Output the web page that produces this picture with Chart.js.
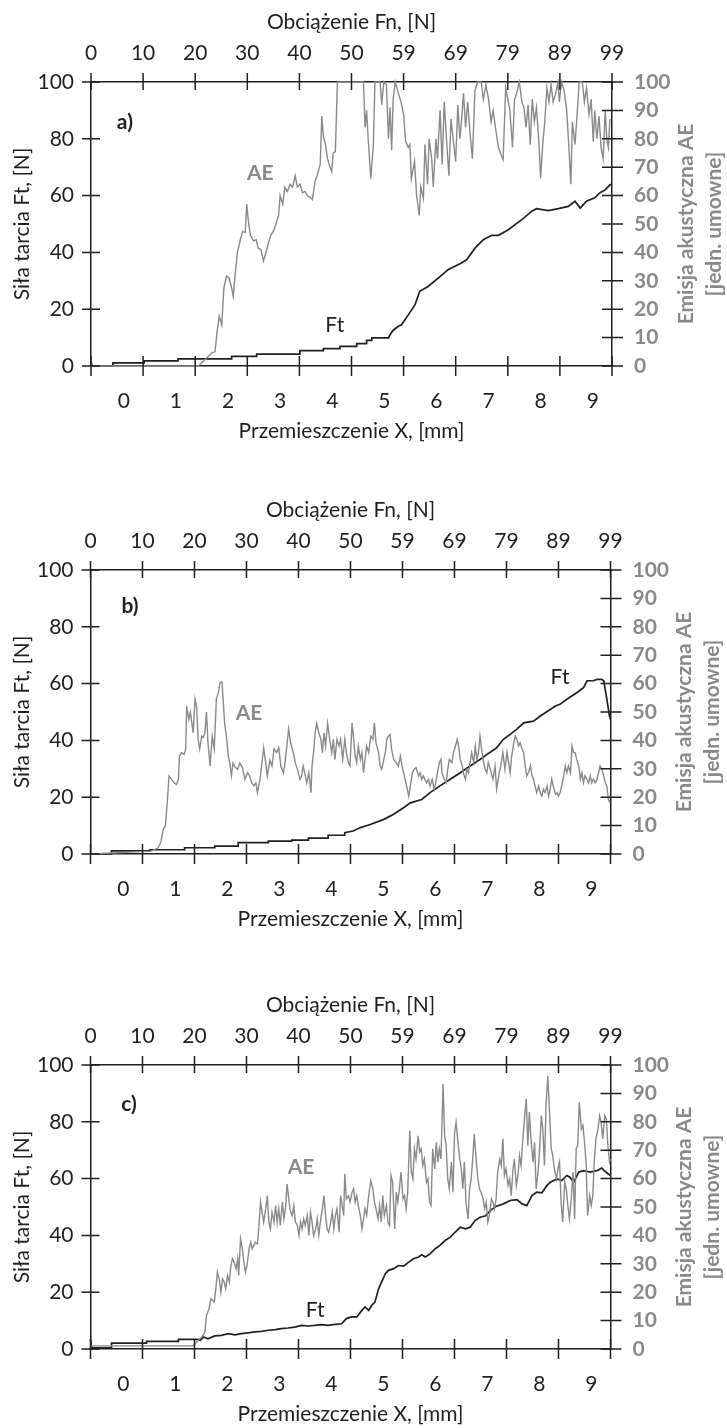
<!DOCTYPE html>
<html>
<head>
<meta charset="utf-8">
<script src="https://cdn.jsdelivr.net/npm/chart.js@4.4.0/dist/chart.umd.min.js"></script>
<style>
  body { margin: 0; background: #fff; }
  .panel { position: absolute; left: 0; width: 727px; height: 444px; }
</style>
</head>
<body>
<div class="panel" style="top:0px"><canvas id="chartA" width="727" height="444"></canvas></div>
<div class="panel" style="top:488px"><canvas id="chartB" width="727" height="444"></canvas></div>
<div class="panel" style="top:983px"><canvas id="chartC" width="727" height="444"></canvas></div>
<script>
// axis ticks
const mmTicks = [0, 1, 2, 3, 4, 5, 6, 7, 8, 9];
const fnTicks = [0, 9.9, 19.8, 29.7, 39.6, 49.5, 59.4, 69.3, 79.2, 89.1, 99];
const fnLabels = ['0', '10', '20', '30', '40', '50', '59', '69', '79', '89', '99'];
const ftTicks = [0, 20, 40, 60, 80, 100];
const aeTicks = [0, 10, 20, 30, 40, 50, 60, 70, 80, 90, 100];

// a) [X mm, value]
const aeA = [[-0.63,2],[-0.6,0],[1.43,0],[1.59,2.8],[1.69,4.6],[1.75,5],[1.79,12],[1.83,17.5],[1.88,14.5],[1.92,27.5],[1.97,31.6],[2.02,31],[2.07,27.5],[2.10,24.5],[2.13,31],[2.18,40],[2.23,44],[2.28,47.4],[2.33,47],[2.36,57],[2.39,51],[2.43,46],[2.49,44],[2.54,44.5],[2.58,41.5],[2.63,41],[2.68,37],[2.73,40],[2.77,43],[2.82,46],[2.87,47.4],[2.92,50],[2.97,53],[3.00,60],[3.05,57],[3.09,63],[3.14,61.5],[3.19,64],[3.24,63],[3.29,67],[3.33,63],[3.38,64],[3.43,61],[3.48,61.5],[3.52,60],[3.57,59.5],[3.62,58.6],[3.67,65],[3.71,67],[3.77,71],[3.80,88],[3.83,81],[3.87,78],[3.91,73],[3.94,71],[3.99,68.5],[4.02,75],[4.06,75.5],[4.10,100],[4.60,100],[4.63,84],[4.66,90],[4.69,80],[4.74,66],[4.79,78],[4.82,100],[4.92,100],[4.95,92],[4.99,100],[5.04,99],[5.08,80],[5.11,91],[5.14,76],[5.17,94],[5.21,100],[5.27,96],[5.32,93],[5.37,88.5],[5.41,79],[5.46,77],[5.49,78],[5.52,66],[5.58,72],[5.62,60],[5.67,53],[5.70,63],[5.75,59],[5.78,78],[5.83,64],[5.86,80],[5.91,73],[5.94,63],[5.99,80],[6.02,73],[6.07,90],[6.11,71],[6.15,93],[6.20,78],[6.24,67],[6.28,87],[6.32,80],[6.37,72],[6.41,92],[6.45,80],[6.48,86],[6.52,96],[6.56,84],[6.60,93],[6.64,83],[6.69,73],[6.74,97],[6.79,100],[6.86,100],[6.90,94],[6.95,99],[7.00,94],[7.05,86],[7.09,90],[7.14,83],[7.19,77],[7.24,74.5],[7.28,72.7],[7.33,98],[7.37,94],[7.41,90],[7.46,77],[7.50,94],[7.54,96],[7.59,100],[7.64,93],[7.68,91],[7.72,84],[7.76,92],[7.80,78],[7.84,94],[7.88,86],[7.92,91],[7.97,78],[8.00,66],[8.04,78],[8.08,86],[8.12,98],[8.16,93],[8.20,99],[8.24,93],[8.29,96],[8.33,100],[8.36,93],[8.40,100],[8.45,97],[8.50,90],[8.54,78],[8.58,64],[8.61,86],[8.66,78],[8.70,88.5],[8.74,100],[8.80,100],[8.84,93],[8.88,98],[8.93,88.5],[8.97,94],[9.01,79],[9.04,90],[9.08,80],[9.12,88],[9.16,77],[9.20,73],[9.24,90],[9.27,80],[9.30,77],[9.33,87]];
const ftA = [[-0.63,0],[-0.21,0],[-0.21,1.1],[0.39,1.1],[0.39,1.8],[1.04,1.8],[1.04,2.5],[2.07,2.5],[2.07,3.4],[2.55,3.4],[2.55,4.2],[3.38,4.2],[3.38,5.4],[3.83,5.4],[3.83,6.1],[4.15,6.1],[4.15,6.9],[4.47,6.9],[4.47,7.9],[4.66,7.9],[4.66,9.0],[4.76,9.0],[4.76,9.9],[5.08,9.9],[5.11,11],[5.17,12.6],[5.27,14],[5.33,14.5],[5.46,18],[5.59,21.6],[5.68,26.3],[5.84,28],[6.04,31],[6.23,34],[6.48,36.3],[6.58,37.4],[6.74,41.5],[6.90,44.5],[7.06,46],[7.19,46],[7.38,48],[7.51,49.8],[7.67,52],[7.83,54.5],[7.92,55.4],[8.15,54.7],[8.34,55.4],[8.53,56.2],[8.66,58],[8.76,55.6],[8.88,58],[9.04,59.2],[9.14,61],[9.24,62],[9.33,63.8],[9.37,64]];

// b)
const aeB = [[-0.63,0],[0.54,1],[0.61,1.6],[0.67,2.2],[0.72,4],[0.77,8.7],[0.81,9.9],[0.85,19],[0.88,27.5],[0.93,26.3],[0.98,25],[1.02,24.5],[1.06,26.3],[1.08,34.5],[1.12,35.7],[1.17,35],[1.20,37],[1.22,52],[1.26,47.4],[1.29,50],[1.31,47.4],[1.345,42.7],[1.38,54.5],[1.41,52],[1.44,40.4],[1.47,37],[1.51,41.5],[1.54,41],[1.57,42.7],[1.60,50],[1.63,39],[1.67,31],[1.71,41.5],[1.75,37],[1.79,54.5],[1.83,56.8],[1.86,60.3],[1.90,60.6],[1.92,54.5],[1.95,46],[1.99,40.4],[2.02,34.5],[2.05,32],[2.08,27.5],[2.11,32],[2.15,30.6],[2.20,29.8],[2.24,32],[2.29,30.6],[2.34,26.3],[2.39,28.6],[2.43,27.5],[2.47,25],[2.51,24],[2.55,25],[2.58,21.6],[2.63,26.3],[2.66,31],[2.70,37.4],[2.74,32],[2.77,27.5],[2.82,33],[2.86,31],[2.90,37],[2.95,35.7],[2.99,37.4],[3.03,31],[3.08,28.6],[3.11,32],[3.14,37],[3.18,44],[3.22,39],[3.27,35.7],[3.31,32],[3.35,29.8],[3.40,26.3],[3.43,27.5],[3.46,31],[3.49,28.6],[3.53,25],[3.57,28.6],[3.61,21.6],[3.63,31],[3.66,35.7],[3.69,42.7],[3.72,46],[3.76,42.7],[3.80,40.4],[3.83,35.7],[3.86,42.7],[3.89,38],[3.93,46],[3.97,40.4],[4.01,35.7],[4.04,40.4],[4.07,33.3],[4.11,40.4],[4.15,38],[4.18,40.4],[4.22,33.3],[4.26,40.4],[4.29,35.7],[4.33,32],[4.36,31],[4.40,46.2],[4.43,40.4],[4.46,34.5],[4.49,32.2],[4.52,38],[4.56,33.3],[4.59,35.7],[4.62,28.6],[4.65,33.3],[4.68,38],[4.72,35.7],[4.76,41.5],[4.80,40.4],[4.83,46.2],[4.86,39.2],[4.91,35.7],[4.94,31],[4.97,29.8],[5.01,33.3],[5.04,35.7],[5.07,40.4],[5.10,41.5],[5.13,42.1],[5.16,36.9],[5.20,33.3],[5.25,32.2],[5.29,31],[5.33,34.5],[5.36,31],[5.39,28.6],[5.42,26.3],[5.45,23.9],[5.49,20.4],[5.52,23.9],[5.56,28.6],[5.59,29.8],[5.63,30.4],[5.68,27.5],[5.71,28.6],[5.74,26.3],[5.77,27.5],[5.83,25.1],[5.87,26.3],[5.90,23.9],[5.94,26.3],[5.98,22.8],[6.02,26.3],[6.04,28.6],[6.08,32.2],[6.11,33.3],[6.13,28.6],[6.17,26.3],[6.21,25.1],[6.24,29.8],[6.27,33.3],[6.32,32.2],[6.35,35.7],[6.39,38],[6.42,40.4],[6.45,38],[6.48,33.3],[6.52,31],[6.54,28.6],[6.58,26.3],[6.61,29.8],[6.64,28.6],[6.67,32.2],[6.70,35.7],[6.74,32.2],[6.77,38],[6.80,33.3],[6.83,35.7],[6.86,41.5],[6.90,35.7],[6.93,32.2],[6.96,29.8],[6.99,28.6],[7.02,32.2],[7.06,29.8],[7.11,26.3],[7.15,31],[7.18,22.8],[7.23,28.6],[7.26,31],[7.30,35.7],[7.34,29.8],[7.38,35.7],[7.41,32.2],[7.44,28.6],[7.47,34.5],[7.51,39.2],[7.54,41.5],[7.57,40.4],[7.60,38],[7.63,39.2],[7.67,36.9],[7.70,35.7],[7.73,31],[7.76,27.5],[7.79,28.6],[7.83,31],[7.86,27.5],[7.89,26.3],[7.92,23.9],[7.95,21.6],[7.99,23.9],[8.02,21.6],[8.05,20.4],[8.08,22.8],[8.11,21.6],[8.15,23.9],[8.18,20.4],[8.21,22.8],[8.24,26.3],[8.27,23.9],[8.31,21],[8.34,21.6],[8.37,20.4],[8.40,21.6],[8.43,23.9],[8.47,27.5],[8.50,31],[8.53,28.6],[8.56,31],[8.60,28.6],[8.63,38],[8.66,35.7],[8.69,35.7],[8.72,33.3],[8.76,31],[8.79,26.3],[8.82,28.6],[8.85,25.1],[8.88,27.5],[8.92,26.3],[8.95,25.1],[8.98,27.5],[9.01,25.1],[9.04,26.3],[9.08,25.1],[9.11,26.3],[9.14,28.6],[9.17,31],[9.20,29.8],[9.24,27.5],[9.27,25.1],[9.30,23.9],[9.33,19.2],[9.36,18]];
const ftB = [[-0.63,0],[-0.225,0],[-0.225,1.1],[0.51,1.1],[0.51,1.5],[1.18,1.5],[1.18,2.2],[1.76,2.2],[1.76,2.8],[2.21,2.8],[2.21,4.0],[2.79,4.0],[2.79,4.5],[3.24,4.5],[3.24,4.9],[3.56,4.9],[3.56,5.6],[3.94,5.6],[3.94,6.6],[4.26,6.6],[4.26,7.5],[4.42,8.1],[4.56,9.3],[4.75,10.4],[5.01,12.2],[5.20,14],[5.39,16.3],[5.52,18],[5.74,19.2],[5.90,21.6],[6.09,24],[6.29,26.3],[6.48,28.6],[6.67,31],[6.86,33.3],[6.99,35],[7.18,37.4],[7.31,40.4],[7.44,42.1],[7.57,44],[7.70,46.2],[7.89,46.8],[8.02,48.6],[8.21,50.9],[8.31,52.1],[8.40,52.7],[8.53,54.5],[8.72,56.8],[8.85,58.6],[8.92,61],[9.04,61],[9.11,61.5],[9.20,61.5],[9.24,61],[9.30,54.5],[9.35,48.6],[9.36,48]];

// c)
const aeC = [[-0.63,1.1],[1.345,1.1],[1.38,1.9],[1.44,3.0],[1.51,4.2],[1.57,6.0],[1.60,11.8],[1.65,14.2],[1.685,17.7],[1.72,17.1],[1.75,16.5],[1.78,21.2],[1.81,27.1],[1.845,24.7],[1.877,20.0],[1.91,24.7],[1.94,23.6],[1.97,21.2],[2.006,25.9],[2.04,23.6],[2.07,29.4],[2.10,31.8],[2.13,30.6],[2.17,28.3],[2.20,31.8],[2.22,25.9],[2.255,38.8],[2.29,35.3],[2.32,30.6],[2.35,27.1],[2.38,29.4],[2.42,35.3],[2.45,37.6],[2.48,35.3],[2.51,36.5],[2.54,37.6],[2.58,37.0],[2.61,43.5],[2.64,51.7],[2.67,48.2],[2.70,44.7],[2.74,49.4],[2.77,54.0],[2.80,44.7],[2.83,42.3],[2.86,48.2],[2.90,44.7],[2.93,50.5],[2.96,44.7],[2.99,49.4],[3.02,43.5],[3.06,51.7],[3.09,45.8],[3.12,49.4],[3.15,58.1],[3.19,51.7],[3.22,48.2],[3.25,47.0],[3.28,50.5],[3.31,44.7],[3.35,43.5],[3.38,40.0],[3.41,44.7],[3.44,42.3],[3.47,45.8],[3.50,43.5],[3.54,47.0],[3.57,40.0],[3.60,48.2],[3.63,44.7],[3.66,40.0],[3.70,42.3],[3.73,45.8],[3.76,40.0],[3.79,44.7],[3.83,49.4],[3.86,54.0],[3.89,47.0],[3.92,42.3],[3.95,41.1],[3.99,44.7],[4.02,48.2],[4.05,42.3],[4.08,47.0],[4.11,49.4],[4.15,41.1],[4.18,54.0],[4.21,50.5],[4.24,47.0],[4.26,61.7],[4.29,52.9],[4.33,54.0],[4.36,51.7],[4.40,55.2],[4.43,56.4],[4.46,51.7],[4.49,54.0],[4.52,50.5],[4.56,47.0],[4.59,42.3],[4.62,45.8],[4.65,49.4],[4.68,47.0],[4.72,54.0],[4.76,59.3],[4.80,56.4],[4.83,51.7],[4.86,49.4],[4.90,45.8],[4.93,50.5],[4.96,44.7],[4.99,54.0],[5.02,47.0],[5.06,50.5],[5.09,44.7],[5.12,43.5],[5.15,61.1],[5.18,58.7],[5.22,42.3],[5.25,55.2],[5.28,51.7],[5.31,56.4],[5.34,62.3],[5.38,52.9],[5.41,54.0],[5.44,49.4],[5.47,55.2],[5.51,76.9],[5.54,62.3],[5.57,59.9],[5.60,70.5],[5.63,66.9],[5.67,75.1],[5.70,69.3],[5.73,70.5],[5.76,64.6],[5.79,66.9],[5.83,58.7],[5.86,59.9],[5.89,51.7],[5.92,50.5],[5.95,70.5],[5.99,63.4],[6.02,72.8],[6.05,65.8],[6.08,70.5],[6.11,66.9],[6.15,93.3],[6.18,75.1],[6.21,71.6],[6.24,59.9],[6.27,56.4],[6.31,65.8],[6.34,55.2],[6.37,75.7],[6.40,79.8],[6.43,74.0],[6.47,66.9],[6.50,63.4],[6.53,56.4],[6.56,65.8],[6.59,51.7],[6.63,45.8],[6.66,56.4],[6.69,59.9],[6.72,66.9],[6.75,75.7],[6.79,65.8],[6.82,59.9],[6.85,56.4],[6.88,55.2],[6.92,52.9],[6.95,49.4],[6.98,51.7],[7.01,44.7],[7.04,47.0],[7.08,52.9],[7.11,51.7],[7.14,49.4],[7.17,52.9],[7.20,62.3],[7.24,66.9],[7.27,64.6],[7.30,74.0],[7.33,61.1],[7.36,63.4],[7.40,57.6],[7.43,59.9],[7.46,54.0],[7.49,62.3],[7.52,66.9],[7.56,57.6],[7.59,61.1],[7.62,68.1],[7.65,64.6],[7.68,72.8],[7.72,82.2],[7.75,88.0],[7.78,71.6],[7.81,83.4],[7.84,74.0],[7.88,65.8],[7.91,72.8],[7.94,56.4],[7.97,61.1],[8.00,68.1],[8.04,82.2],[8.07,76.9],[8.10,64.6],[8.13,85.7],[8.165,96.2],[8.20,82.2],[8.23,70.5],[8.26,68.1],[8.29,63.4],[8.33,59.9],[8.36,63.4],[8.39,65.8],[8.42,51.7],[8.45,44.7],[8.49,58.7],[8.52,56.4],[8.55,50.5],[8.58,45.8],[8.61,51.7],[8.65,62.3],[8.68,45.8],[8.71,70.5],[8.74,71.6],[8.77,86.9],[8.81,77.5],[8.84,78.7],[8.87,72.8],[8.90,65.8],[8.93,47.0],[8.97,54.0],[9.00,50.5],[9.03,54.0],[9.06,66.9],[9.09,74.0],[9.13,77.5],[9.16,82.2],[9.19,79.8],[9.22,74.0],[9.26,82.2],[9.29,81.0],[9.32,71.6],[9.35,65.8],[9.37,66.9]];
const ftC = [[-0.63,3.5],[-0.61,0.4],[-0.225,0.4],[-0.225,2.1],[0.448,2.1],[0.448,2.7],[1.06,2.7],[1.06,3.4],[1.44,3.4],[1.48,3.0],[1.54,4.2],[1.63,3.6],[1.76,4.6],[1.89,4.8],[2.02,5.4],[2.15,5.0],[2.27,5.4],[2.40,5.7],[2.53,6.0],[2.66,6.2],[2.79,6.6],[2.92,6.8],[3.04,7.2],[3.17,7.4],[3.30,7.7],[3.43,8.3],[3.56,8.1],[3.68,8.3],[3.81,8.6],[3.94,8.3],[4.07,8.7],[4.20,8.9],[4.29,10.7],[4.39,11.3],[4.49,11.3],[4.59,13.6],[4.65,14.8],[4.72,13.6],[4.78,15.4],[4.84,16.5],[4.91,21.2],[4.97,23.6],[5.04,26.5],[5.10,27.7],[5.20,28.3],[5.29,29.4],[5.39,29.2],[5.49,30.6],[5.58,31.8],[5.68,32.4],[5.74,33.2],[5.81,32.4],[5.90,33.5],[6.00,35.3],[6.09,36.5],[6.19,38.2],[6.29,39.4],[6.38,41.1],[6.48,42.9],[6.58,42.3],[6.67,42.9],[6.77,45.3],[6.86,46.4],[6.96,46.8],[7.06,48.8],[7.18,50.3],[7.31,51.1],[7.44,52.3],[7.57,52.6],[7.67,51.1],[7.76,50.5],[7.86,54.0],[7.95,55.2],[8.05,55.0],[8.15,57.6],[8.21,58.7],[8.34,59.9],[8.43,59.3],[8.53,61.1],[8.59,60.5],[8.66,58.7],[8.76,62.3],[8.85,62.8],[8.98,62.3],[9.11,62.8],[9.20,63.7],[9.27,62.5],[9.36,61.1]];

const INK = '#231f20';
const GREY = '#8a8a8a';
const FONT = 'Lato';
const SIZE = 21;

function toXY(pairs) {
  return pairs.map(p => ({ x: p[0], y: p[1] }));
}

function makeChart(id, ae, ft, left, right, notes) {
  const panel = {
    id: 'panel',
    afterDraw(chart) {
      const { ctx, chartArea: a, scales } = chart;
      ctx.save();
      // cross ticks, Excel style
      ctx.strokeStyle = INK;
      ctx.lineWidth = 1.5;
      ctx.beginPath();
      ftTicks.forEach(v => {
        const y = scales.y.getPixelForValue(v);
        ctx.moveTo(a.left - 9, y); ctx.lineTo(a.left + 9, y);
      });
      aeTicks.forEach(v => {
        const y = scales.y1.getPixelForValue(v);
        ctx.moveTo(a.right - 10, y); ctx.lineTo(a.right + 11, y);
      });
      fnTicks.forEach(v => {
        const x = scales.xTop.getPixelForValue(v);
        ctx.moveTo(x, a.top - 9); ctx.lineTo(x, a.top + 8);
        ctx.moveTo(x, a.bottom - 10); ctx.lineTo(x, a.bottom + 10);
      });
      ctx.stroke();

      // labels inside the plot
      ctx.textAlign = 'center';
      ctx.textBaseline = 'middle';
      notes.forEach(n => {
        ctx.font = (n.bold ? 'bold ' : '') + '21px ' + FONT;
        ctx.fillStyle = n.color;
        ctx.fillText(n.text, scales.x.getPixelForValue(n.x), scales.y.getPixelForValue(n.y));
      });

      // right axis title reads bottom to top
      ctx.font = 'bold ' + SIZE + 'px ' + FONT;
      ctx.fillStyle = GREY;
      ctx.translate(a.right + 74, (a.top + a.bottom) / 2);
      ctx.rotate(-Math.PI / 2);
      ctx.fillText('Emisja akustyczna AE', 0, 0);
      ctx.fillText('[jedn. umowne]', 0, 28);
      ctx.restore();
    }
  };

  return new Chart(document.getElementById(id), {
    type: 'line',
    data: {
      datasets: [
        { label: 'AE', data: toXY(ae), xAxisID: 'x', yAxisID: 'y1', borderColor: GREY, borderWidth: 1.4, pointRadius: 0, tension: 0, clip: 3 },
        { label: 'Ft', data: toXY(ft), xAxisID: 'x', yAxisID: 'y', borderColor: INK, borderWidth: 1.7, pointRadius: 0, tension: 0, clip: 3 }
      ]
    },
    options: {
      responsive: false,
      animation: false,
      devicePixelRatio: 1,
      layout: { padding: 0 },
      plugins: { legend: { display: false }, tooltip: { enabled: false } },
      scales: {
        x: {
          type: 'linear', position: 'bottom', min: -0.63, max: 9.37,
          afterBuildTicks: s => { s.ticks = mmTicks.map(v => ({ value: v })); },
          afterFit: s => { s.height = 78; },
          grid: { display: false, drawTicks: false },
          border: { display: true, color: INK, width: 1.5 },
          ticks: { color: INK, font: { family: FONT, size: SIZE }, padding: 23, maxRotation: 0, autoSkip: false },
          title: { display: true, text: 'Przemieszczenie X, [mm]', color: INK, font: { family: FONT, size: SIZE }, padding: { top: 0, bottom: 0 } }
        },
        xTop: {
          type: 'linear', position: 'top', min: 0, max: 99,
          afterBuildTicks: s => { s.ticks = fnTicks.map(v => ({ value: v })); },
          afterFit: s => { s.height = 82; },
          grid: { display: false, drawTicks: false },
          border: { display: true, color: INK, width: 1.5 },
          ticks: { color: INK, font: { family: FONT, size: SIZE }, padding: 16, maxRotation: 0, autoSkip: false,
                   callback: v => fnLabels[fnTicks.indexOf(v)] },
          title: { display: true, text: 'Obciążenie Fn, [N]', color: INK, font: { family: FONT, size: SIZE }, padding: { top: 10, bottom: 0 } }
        },
        y: {
          position: 'left', min: 0, max: 100,
          afterBuildTicks: s => { s.ticks = ftTicks.map(v => ({ value: v })); },
          afterFit: s => { s.width = left; },
          grid: { display: false, drawTicks: false },
          border: { display: true, color: INK, width: 1.5 },
          ticks: { color: INK, font: { family: FONT, size: SIZE }, padding: 17, autoSkip: false },
          title: { display: true, text: 'Siła tarcia Ft, [N]', color: INK, font: { family: FONT, size: SIZE }, padding: { top: 10, bottom: 0 } }
        },
        y1: {
          position: 'right', min: 0, max: 100,
          afterBuildTicks: s => { s.ticks = aeTicks.map(v => ({ value: v })); },
          afterFit: s => { s.width = 727 - right; },
          grid: { display: false, drawTicks: false },
          border: { display: true, color: INK, width: 1.5 },
          ticks: { color: GREY, font: { family: FONT, size: SIZE, weight: 'bold' }, padding: 22, autoSkip: false }
        }
      }
    },
    plugins: [panel]
  });
}

makeChart('chartA', aeA, ftA, 91, 612, [
  { text: 'a)', x: 0.02, y: 85.9, bold: true, color: INK },
  { text: 'AE', x: 2.62, y: 68, bold: true, color: GREY },
  { text: 'Ft', x: 4.05, y: 14.4, bold: false, color: INK }
]);
makeChart('chartB', aeB, ftB, 90.5, 610.5, [
  { text: 'b)', x: 0.13, y: 87.3, bold: true, color: INK },
  { text: 'AE', x: 2.42, y: 49.5, bold: true, color: GREY },
  { text: 'Ft', x: 8.40, y: 62.1, bold: false, color: INK }
]);
makeChart('chartC', aeC, ftC, 90.5, 610.5, [
  { text: 'c)', x: 0.11, y: 86.2, bold: true, color: INK },
  { text: 'AE', x: 3.42, y: 64, bold: true, color: GREY },
  { text: 'Ft', x: 3.69, y: 13.6, bold: false, color: INK }
]);
</script>
</body>
</html>
